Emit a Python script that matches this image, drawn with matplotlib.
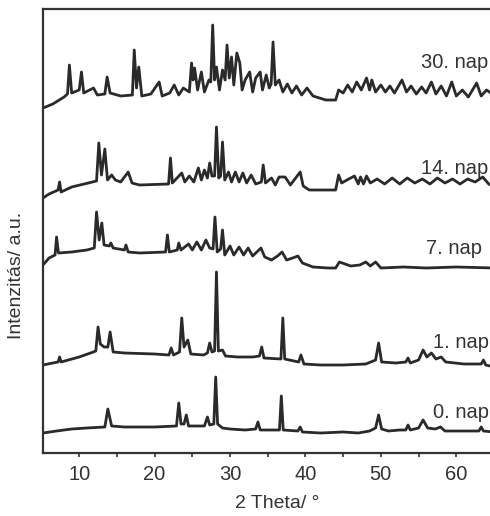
import matplotlib.pyplot as plt
from matplotlib.ticker import MultipleLocator

# 2 theta / intensity vertices (offset already included)
theta_0 = [5.2, 7, 9, 11, 13.4, 13.8, 14.3, 16, 20, 22.9, 23.2, 23.5, 23.9, 24.2, 24.5, 26.6,
           27.0, 27.3, 27.85, 28.1, 28.35, 29.0, 30, 32, 33.4, 33.7, 34.0, 36.55, 36.8, 37.05,
           39.0, 39.3, 39.6, 42, 45, 47, 48.5, 49.3, 49.7, 50.1, 51, 52.5, 53.3, 53.6, 53.9,
           55.0, 55.6, 56.2, 57.2, 57.9, 58.5, 60, 63.0, 63.3, 63.6, 65]
int_0 = [19, 21, 23, 24, 25, 43, 26, 25, 25, 26, 49, 28, 28, 37, 26, 26,
         35, 27, 28, 75, 28, 24, 23, 22, 23, 30, 22, 22, 56, 22,
         21, 25, 20, 19, 20, 19, 21, 24, 37, 23, 21, 22, 22, 27, 22,
         24, 32, 24, 23, 25, 21, 21, 21, 25, 21, 20]

theta_1 = [5.2, 6.5, 7.2, 7.4, 7.6, 10, 11.5, 12.2, 12.5, 12.8, 13.3, 13.8, 14.1, 14.5, 16, 20,
           21.9, 22.2, 22.5, 23.3, 23.6, 23.9, 24.4, 24.8, 26.5, 27.0, 27.3, 27.6, 27.95, 28.2,
           28.45, 29.0, 29.4, 31, 33, 33.9, 34.2, 34.5, 36.75, 37.0, 37.25, 39.1, 39.4, 39.8,
           42, 45, 48, 49.3, 49.7, 50.1, 52, 53.3, 53.6, 53.9, 55.0, 55.6, 56.1, 56.7, 57.3,
           58.0, 58.6, 61, 63.3, 63.6, 63.9, 65]
int_1 = [87, 89, 90, 95, 90, 95, 99, 101, 125, 108, 105, 105, 120, 100, 99, 98,
         97, 104, 97, 100, 134, 105, 112, 98, 97, 99, 109, 100, 101, 180,
         101, 102, 96, 95, 95, 96, 105, 94, 93, 134, 93, 90, 97, 88,
         87, 87, 88, 92, 109, 90, 89, 90, 94, 89, 92, 102, 95, 99, 93,
         95, 90, 88, 88, 92, 87, 85]

theta_7 = [5.2, 6.0, 6.8, 7.0, 7.25, 9, 11, 12.0, 12.3, 12.65, 13.0, 13.3, 14.0, 14.2, 14.5, 16.0,
           16.2, 16.5, 18, 21.45, 21.7, 21.95, 23.0, 23.2, 23.5, 24.5, 25, 25.6, 26.2, 26.8,
           27.3, 27.75, 28.0, 28.3, 28.75, 29.0, 29.3, 30.0, 30.5, 31.2, 31.8, 32.4, 33.0, 34.1,
           34.6, 35.5, 36.3, 36.9, 37.5, 38.3, 39.0, 39.6, 41, 43, 44.0, 44.5, 46, 47.2, 48.0,
           48.6, 49.3, 50, 53, 56, 60, 65]
int_7 = [187, 194, 197, 215, 199, 200, 202, 204, 240, 212, 229, 207, 206, 209, 204, 202,
         207, 200, 199, 200, 217, 200, 202, 209, 202, 208, 202, 210, 202, 212,
         204, 203, 235, 200, 203, 222, 197, 206, 197, 205, 197, 204, 196, 204,
         195, 192, 196, 200, 192, 194, 196, 189, 185, 184, 184, 190, 186, 187, 190,
         186, 190, 184, 185, 184, 185, 184]

theta_14 = [5.2, 6, 7.2, 7.4, 7.6, 9, 12.3, 12.6, 12.95, 13.4, 13.75, 14.3, 14.8, 15.5, 16.5, 17,
            18, 21.85, 22.1, 22.35, 23.6, 24, 24.6, 25.2, 25.8, 26.2, 26.6, 27.0, 27.3, 27.6,
            27.95, 28.2, 28.5, 28.75, 29.0, 29.3, 29.8, 30.2, 30.7, 31.2, 31.7, 32.2, 32.8,
            33.4, 34.15, 34.4, 34.7, 35.5, 36.0, 36.5, 37.3, 38.0, 39.3, 39.7, 40.5, 42, 44.0,
            44.4, 44.8, 45.5, 46.5, 47.0, 47.3, 47.7, 48.1, 48.6, 49.5, 50.5, 51.5, 52.5, 53.5,
            54.5, 55.5, 56.5, 57.5, 58.5, 59.5, 60.5, 61.5, 62.5, 63.5, 64.3, 65]
int_14 = [254, 258, 262, 270, 260, 265, 271, 309, 277, 303, 272, 277, 272, 270, 280, 269,
          267, 268, 294, 269, 279, 270, 276, 270, 284, 272, 282, 274, 289, 276,
          276, 325, 274, 276, 310, 272, 280, 270, 280, 270, 279, 269, 277,
          268, 270, 287, 269, 274, 267, 275, 275, 267, 280, 266, 262, 262, 262,
          277, 269, 272, 276, 268, 275, 268, 276, 269, 273, 268, 274, 268, 274,
          269, 273, 268, 274, 269, 273, 268, 273, 270, 275, 268, 265]

theta_30 = [5.2, 6.5, 8.0, 8.45, 8.7, 9.0, 10.0, 10.3, 10.6, 11.9, 12.4, 13.4, 13.7, 14.1, 15.5,
            17.05, 17.3, 17.6, 17.9, 18.3, 19.5, 20.6, 21.0, 22.0, 22.6, 23.2, 23.8, 24.6, 24.9,
            25.1, 25.3, 25.7, 26.2, 26.6, 27.2, 27.45, 27.7, 27.95, 28.2, 28.6, 29.0, 29.35, 29.6,
            29.9, 30.2, 30.5, 30.9, 31.3, 31.6, 32.0, 32.6, 33.0, 33.4, 34.0, 34.3, 34.8, 35.2,
            35.45, 35.7, 36.0, 36.5, 37.0, 37.6, 38.2, 38.8, 39.5, 40.2, 41.0, 42.7, 44.0, 44.4,
            45.0, 45.6, 46.2, 46.8, 47.4, 48.1, 48.5, 48.8, 49.3, 50.0, 50.6, 51.2, 51.8, 52.8,
            53.4, 54.0, 54.7, 55.4, 56.0, 56.7, 57.3, 58.0, 58.7, 59.4, 60.0, 60.8, 61.6, 62.7,
            63.3, 64.0, 65.0]
int_30 = [344, 348, 355, 358, 387, 359, 362, 380, 359, 364, 357, 358, 375, 359, 356,
          357, 402, 364, 385, 356, 358, 370, 356, 359, 367, 357, 364, 360, 389,
          372, 384, 362, 380, 360, 372, 370, 427, 372, 385, 362, 382, 372, 407,
          374, 395, 367, 399, 389, 362, 372, 380, 360, 374, 380, 362, 377, 364,
          368, 410, 367, 372, 360, 368, 359, 366, 357, 364, 356, 352, 352, 362,
          359, 367, 360, 370, 362, 374, 362, 372, 360, 367, 360, 366, 359, 372,
          360, 366, 358, 365, 359, 370, 358, 366, 356, 370, 356, 362, 355, 369,
          356, 362, 357]

labels = ['0. nap', '1. nap', '7. nap', '14. nap', '30. nap']
label_x = [64.3, 64.3, 63.4, 64.3, 64.3]
label_y = [39, 110, 204, 284, 389]

TRACE_COLOR = '#2a2a2a'
FONT = 'Liberation Sans'

fig = plt.figure(figsize=(4.9, 5.16), dpi=100)
ax = fig.add_axes([43 / 490, 63 / 516, 451 / 490, 444 / 516])

for th, inten in [(theta_0, int_0), (theta_1, int_1), (theta_7, int_7),
                  (theta_14, int_14), (theta_30, int_30)]:
    ax.plot(th, inten, color=TRACE_COLOR, lw=2.0, solid_joinstyle='round')

for lab, lx, ly in zip(labels, label_x, label_y):
    ax.text(lx, ly, lab, ha='right', va='center', fontsize=14.5,
            family=FONT, color='#333333')

ax.set_xlim(5.2, 65)
ax.set_ylim(-1, 443)
ax.xaxis.set_major_locator(MultipleLocator(10))
ax.xaxis.set_minor_locator(MultipleLocator(5))
ax.set_yticks([])
ax.tick_params(axis='x', which='both', direction='out', length=3, width=1.2,
               pad=6, labelsize=14.5, colors='#333333')
for lbl in ax.get_xticklabels():
    lbl.set_family(FONT)

for side in ['left', 'top', 'bottom', 'right']:
    ax.spines[side].set_linewidth(1.6)
    ax.spines[side].set_color('#333333')

ax.set_xlabel('2 Theta/ °', fontsize=14, family=FONT, color='#333333')
ax.xaxis.set_label_coords(0.519, -0.095)
ax.set_ylabel('Intenzitás/ a.u.', fontsize=14, family=FONT, color='#333333')
ax.yaxis.set_label_coords(-0.04, 0.40)

fig.savefig('out.png', dpi=100)
